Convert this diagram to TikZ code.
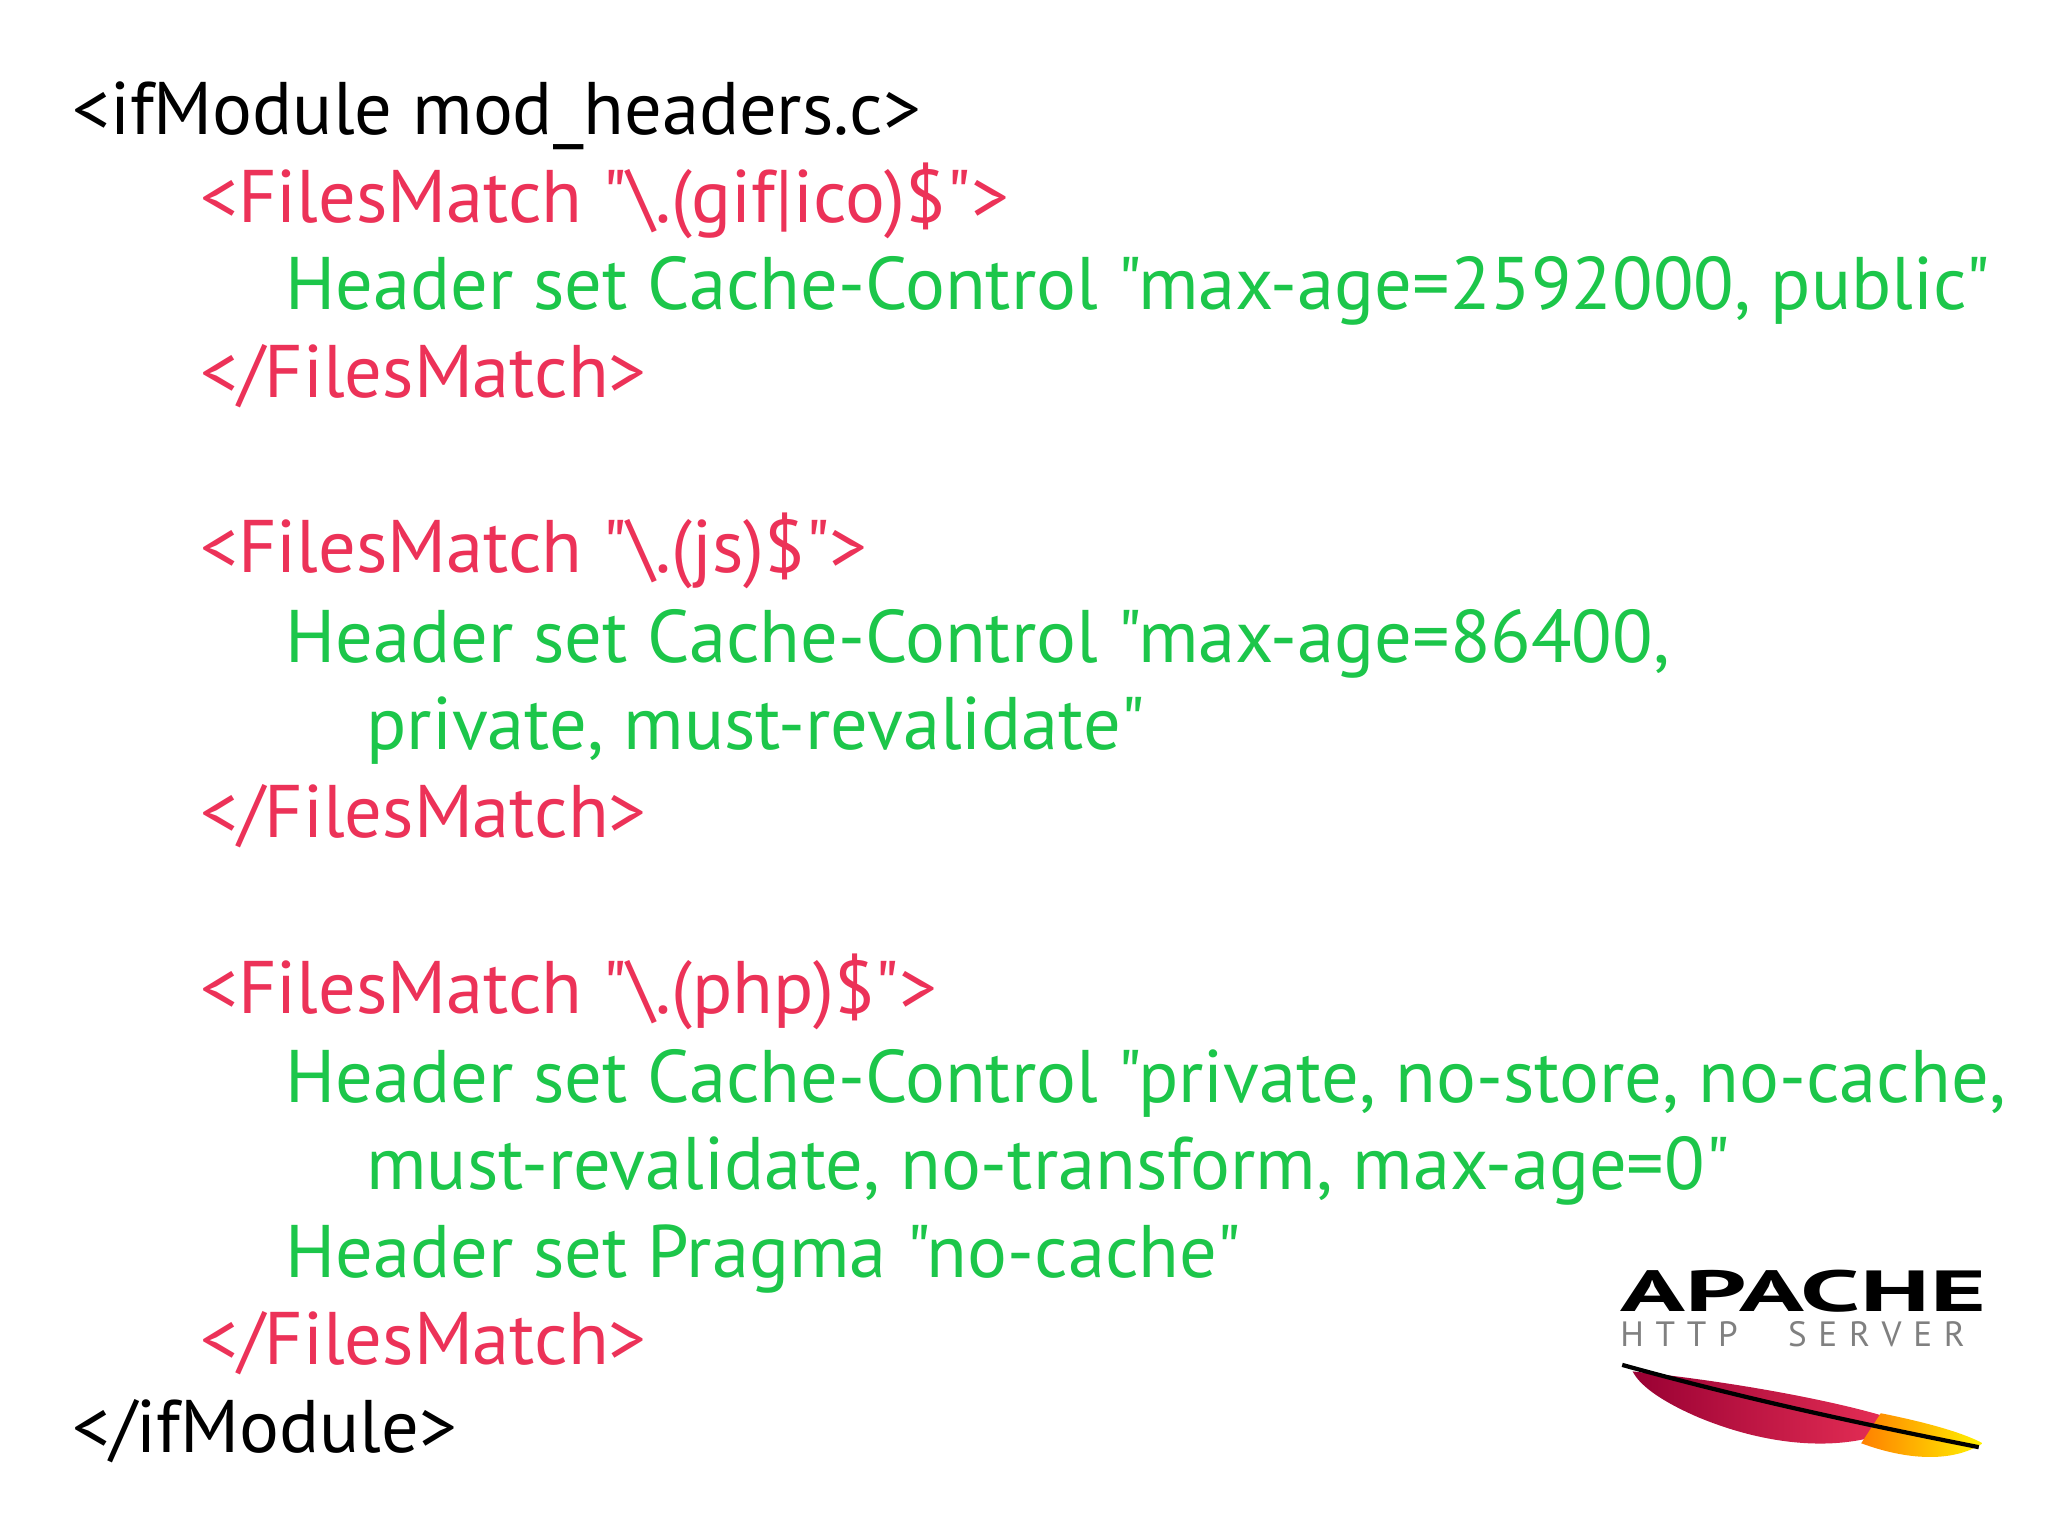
\documentclass[tikz,border=0pt]{standalone}
\usepackage{fontspec}
\setmainfont{PT Sans}[Ligatures=TeXOff]
\definecolor{rd}{HTML}{EC3258}
\definecolor{gr}{HTML}{1CC64A}
\begin{document}
\begin{tikzpicture}[x=0.013061cm,y=-0.013061cm,
 t/.style={anchor=base west,inner sep=0pt,font=\fontsize{21.2}{24}\selectfont},
 k/.style={t,text=black}, r/.style={t,text=rd}, g/.style={t,text=gr}]
\useasboundingbox[fill=white] (0,0) rectangle (1568,1176);
\node[k] (l1) at (55,103) {<ifModule mod\_headers.c>};
\node[r] (l2) at (153,170) {<FilesMatch "\textbackslash.(gif|ico)\$">};
\node[g] (l3) at (218,237) {Header set Cache-Control "max-age=2592000, public"};
\node[r] (l4) at (153,304) {</FilesMatch>};
\node[r] (l5) at (153,438) {<FilesMatch "\textbackslash.(js)\$">};
\node[g] (l6) at (218,507) {Header set Cache-Control "max-age=86400,};
\node[g] (l7) at (280,574) {private, must-revalidate"};
\node[r] (l8) at (153,641) {</FilesMatch>};
\node[r] (l9) at (153,776) {<FilesMatch "\textbackslash.(php)\$">};
\node[g] (l10) at (218,844) {Header set Cache-Control "private, no-store, no-cache,};
\node[g] (l11) at (280,911) {must-revalidate, no-transform, max-age=0"};
\node[g] (l12) at (218,978) {Header set Pragma "no-cache"};
\node[r] (l13) at (153,1045) {</FilesMatch>};
\node[k] (l14) at (55,1112) {</ifModule>};
% logo
\node[anchor=base west,inner sep=0pt,font=\fontsize{16.5}{17}\selectfont\bfseries,xscale=1.85] (ap) at (1240,1004) {APACHE};
\node[anchor=base west,inner sep=0pt,font=\fontsize{10}{11}\selectfont,text=gray] (hs) at (1240,1031) {H\,\,T\,\,T\,\,P\quad\, S\,\,E\,\,R\,\,V\,\,E\,\,R};
\shade[left color=purple!80!black,right color=rd]
 (1250,1050) .. controls (1330,1058) and (1420,1075) .. (1460,1090)
 .. controls (1420,1112) and (1360,1110) .. (1300,1085)
 .. controls (1270,1072) and (1255,1060) .. (1250,1050) -- cycle;
\shade[left color=orange,right color=yellow!90!orange]
 (1440,1082) .. controls (1480,1090) and (1505,1098) .. (1518,1105)
 .. controls (1495,1120) and (1460,1118) .. (1425,1105) -- cycle;
\draw[black,line width=1.2] (1242,1045) .. controls (1350,1075) and (1450,1095) .. (1515,1108);
\end{tikzpicture}
\end{document}
